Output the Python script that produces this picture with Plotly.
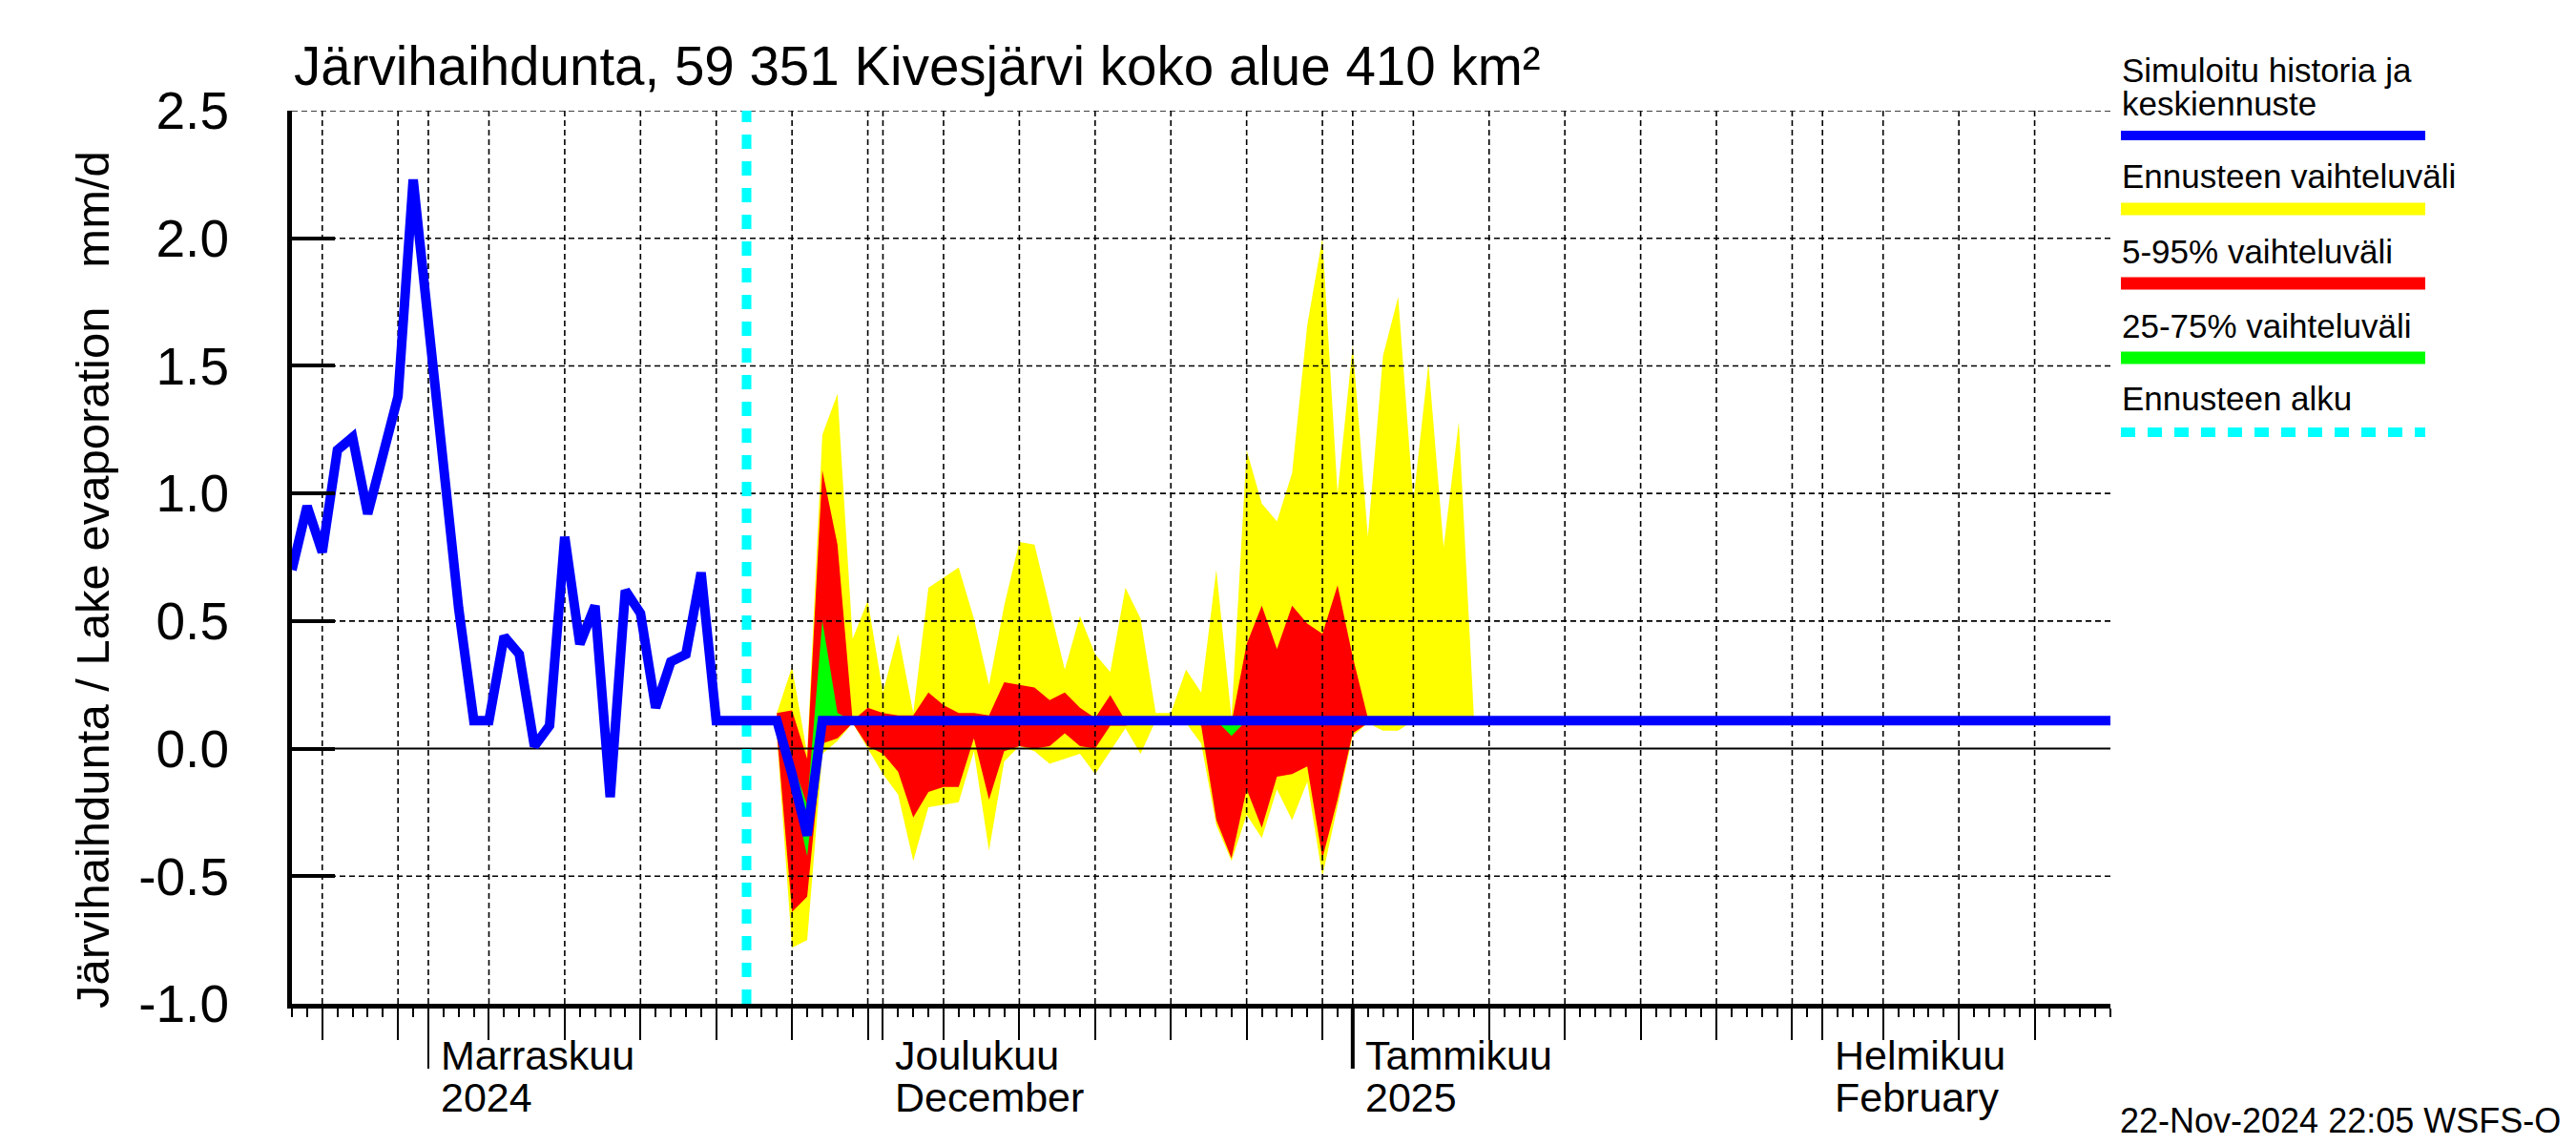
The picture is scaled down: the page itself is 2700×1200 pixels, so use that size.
import plotly.graph_objects as go
import pandas as pd

# ---------------- data ----------------
start_date = "2024-10-23"
end_date = "2025-02-20"
forecast_start = "2024-11-22"

# simulated history, daily from 2024-10-23 (mm/d)
history = [0.70, 0.95, 0.77, 1.17, 1.22, 0.92, 1.15, 1.38, 2.23, 1.66,
           1.05, 0.55, 0.11, 0.11, 0.44, 0.37, 0.01, 0.09, 0.83, 0.41,
           0.56, -0.19, 0.62, 0.53, 0.16, 0.34, 0.37, 0.69, 0.11]

# median forecast, daily from 2024-11-21
median_forecast = [0.11, 0.11, 0.11, 0.11, -0.10, -0.34, 0.11, 0.11, 0.11, 0.11,
                   0.11, 0.11, 0.11, 0.11, 0.11, 0.11, 0.11, 0.11, 0.11, 0.11,
                   0.11, 0.11, 0.11, 0.11, 0.11, 0.11, 0.11, 0.11, 0.11, 0.11,
                   0.11, 0.11, 0.11, 0.11, 0.11, 0.11, 0.11, 0.11, 0.11, 0.11,
                   0.11, 0.11, 0.11, 0.11, 0.11, 0.11, 0.11, 0.11, 0.11, 0.11,
                   0.11, 0.11, 0.11, 0.11, 0.11, 0.11, 0.11, 0.11, 0.11, 0.11,
                   0.11, 0.11, 0.11, 0.11, 0.11, 0.11, 0.11, 0.11, 0.11, 0.11,
                   0.11, 0.11, 0.11, 0.11, 0.11, 0.11, 0.11, 0.11, 0.11, 0.11,
                   0.11, 0.11, 0.11, 0.11, 0.11, 0.11, 0.11, 0.11, 0.11, 0.11,
                   0.11, 0.11]

# forecast ranges, daily from 2024-11-24
band_start = "2024-11-24"
yellow_hi = [0.14, 0.32, -0.02, 1.23, 1.39, 0.43, 0.58, 0.22, 0.45, 0.14,
             0.63, 0.67, 0.71, 0.51, 0.25, 0.56, 0.81, 0.80, 0.56, 0.31,
             0.52, 0.37, 0.30, 0.63, 0.51, 0.14, 0.14, 0.31, 0.22, 0.70,
             0.12, 1.17, 0.96, 0.89, 1.08, 1.66, 2.00, 1.00, 1.58, 0.83,
             1.54, 1.77, 0.97, 1.51, 0.79, 1.28, 0.12]
yellow_lo = [0.05, -0.78, -0.75, -0.02, 0.03, 0.10, 0.00, -0.10, -0.18, -0.44,
             -0.23, -0.22, -0.21, -0.01, -0.40, -0.05, 0.01, -0.01, -0.06, -0.04,
             -0.02, -0.10, -0.01, 0.08, -0.02, 0.11, 0.10, 0.10, 0.02, -0.30,
             -0.44, -0.26, -0.35, -0.16, -0.28, -0.13, -0.50, -0.22, 0.05, 0.10,
             0.07, 0.07, 0.11, 0.11, 0.11, 0.11, 0.11]
red_hi = [0.14, 0.15, -0.04, 1.09, 0.80, 0.11, 0.16, 0.14, 0.13, 0.13,
          0.22, 0.17, 0.14, 0.14, 0.13, 0.26, 0.25, 0.24, 0.19, 0.22,
          0.16, 0.12, 0.21, 0.11, 0.11, 0.11, 0.11, 0.11, 0.11, 0.11,
          0.10, 0.41, 0.56, 0.39, 0.56, 0.49, 0.45, 0.64, 0.36, 0.12,
          0.11, 0.11, 0.11, 0.11, 0.11, 0.11, 0.11]
red_lo = [0.06, -0.64, -0.58, 0.02, 0.04, 0.10, 0.01, -0.02, -0.09, -0.27,
          -0.17, -0.15, -0.15, 0.04, -0.20, -0.01, 0.01, 0.00, 0.01, 0.06,
          0.01, 0.00, 0.09, 0.09, 0.10, 0.11, 0.11, 0.11, 0.09, -0.28,
          -0.43, -0.16, -0.31, -0.11, -0.10, -0.07, -0.43, -0.20, 0.06, 0.10,
          0.11, 0.11, 0.11, 0.11, 0.11, 0.11, 0.11]
green_hi = [0.11, -0.05, -0.22, 0.50, 0.14, 0.11, 0.11, 0.11, 0.11, 0.11,
            0.11, 0.11, 0.11, 0.11, 0.11, 0.11, 0.11, 0.11, 0.11, 0.11,
            0.11, 0.11, 0.11, 0.11, 0.11, 0.11, 0.11, 0.11, 0.11, 0.11,
            0.11, 0.11, 0.11, 0.11, 0.11, 0.11, 0.11, 0.11, 0.11, 0.11,
            0.11, 0.11, 0.11, 0.11, 0.11, 0.11, 0.11]
green_lo = [0.11, -0.15, -0.42, 0.11, 0.10, 0.11, 0.11, 0.11, 0.11, 0.11,
            0.11, 0.11, 0.11, 0.11, 0.11, 0.11, 0.11, 0.11, 0.11, 0.11,
            0.11, 0.11, 0.11, 0.11, 0.11, 0.11, 0.11, 0.11, 0.11, 0.11,
            0.05, 0.11, 0.11, 0.11, 0.11, 0.11, 0.11, 0.11, 0.11, 0.11,
            0.11, 0.11, 0.11, 0.11, 0.11, 0.11, 0.11]

# axis decorations
grid_dates = ["2024-10-25", "2024-10-30", "2024-11-01", "2024-11-05", "2024-11-10",
              "2024-11-15", "2024-11-20", "2024-11-25", "2024-11-30", "2024-12-01",
              "2024-12-05", "2024-12-10", "2024-12-15", "2024-12-20", "2024-12-25",
              "2024-12-30", "2025-01-01", "2025-01-05", "2025-01-10", "2025-01-15",
              "2025-01-20", "2025-01-25", "2025-01-30", "2025-02-01", "2025-02-05",
              "2025-02-10", "2025-02-15"]
y_ticks = [-1.0, -0.5, 0.0, 0.5, 1.0, 1.5, 2.0, 2.5]
y_tick_text = ["-1.0", "-0.5", "0.0", "0.5", "1.0", "1.5", "2.0", "2.5"]
y_grid = [-0.5, 0.5, 1.0, 1.5, 2.0, 2.5]
month_starts = ["2024-11-01", "2024-12-01", "2025-01-01", "2025-02-01"]
month_line1 = ["Marraskuu", "Joulukuu", "Tammikuu", "Helmikuu"]
month_line2 = ["2024", "December", "2025", "February"]
long_tick_months = ["2024-11-01", "2025-01-01"]
long_tick_widths = [2, 4]

title_text = "Järvihaihdunta, 59 351 Kivesjärvi koko alue 410 km²"
ytitle_text = "Järvihaihdunta / Lake evaporation\u00a0\u00a0\u00a0mm/d"
stamp_text = "22-Nov-2024 22:05 WSFS-O"
legend_labels = ["Simuloitu historia ja", "keskiennuste", "Ennusteen vaihteluväli",
                 "5-95% vaihteluväli", "25-75% vaihteluväli", "Ennusteen alku"]

# ---------------- figure ----------------
FONT = "Liberation Sans, Arial, Helvetica, sans-serif"
OFF = 8                       # page body margin of the browser
W, H = 2700 - OFF, 1200 - OFF
L, R, T, B = 306 - OFF, 2700 - 2212, 116 - OFF, 148
PW, PH = W - L - R, H - T - B


def px_x(px):                 # px: position in the 2700x1200 screenshot
    return (px - OFF - L) / PW


def px_y(py):
    return (H - B - (py - OFF)) / PH


t0 = pd.Timestamp(start_date)
hist_dates = pd.date_range(t0, periods=len(history), freq="D")
fc_dates = pd.date_range(hist_dates[-1] + pd.Timedelta(days=1), periods=len(median_forecast), freq="D")
band_dates = pd.date_range(pd.Timestamp(band_start), periods=len(yellow_hi), freq="D")

fig = go.Figure()


def add_band(lo, hi, color):
    fig.add_trace(go.Scatter(x=band_dates, y=lo, mode="lines", line=dict(width=0, color=color),
                             hoverinfo="skip", showlegend=False))
    fig.add_trace(go.Scatter(x=band_dates, y=hi, mode="lines", line=dict(width=0, color=color),
                             fill="tonexty", fillcolor=color, hoverinfo="skip", showlegend=False))


add_band(yellow_lo, yellow_hi, "#FFFF00")
add_band(red_lo, red_hi, "#FF0000")
add_band(green_lo, green_hi, "#00FF00")

# grid drawn above the fills
gx, gy = [], []
for g in grid_dates:
    gx += [g, g, None]
    gy += [y_ticks[0], y_ticks[-1], None]
fig.add_trace(go.Scatter(x=gx, y=gy, mode="lines", line=dict(color="black", width=1.6, dash="6px,4px"),
                         hoverinfo="skip", showlegend=False))
hx, hy = [], []
for v in y_grid:
    hx += [start_date, end_date, None]
    hy += [v, v, None]
fig.add_trace(go.Scatter(x=hx, y=hy, mode="lines", line=dict(color="black", width=1.6, dash="6px,4px"),
                         hoverinfo="skip", showlegend=False))
fig.add_trace(go.Scatter(x=[start_date, end_date], y=[0.0, 0.0], mode="lines",
                         line=dict(color="black", width=2), hoverinfo="skip", showlegend=False))

# forecast start
fig.add_trace(go.Scatter(x=[forecast_start, forecast_start], y=[y_ticks[0], y_ticks[-1]], mode="lines",
                         line=dict(color="#00FFFF", width=10, dash="15px,13px"),
                         hoverinfo="skip", showlegend=False))

# history + median forecast
fig.add_trace(go.Scatter(x=list(hist_dates) + list(fc_dates), y=history + median_forecast, mode="lines",
                         line=dict(color="#0000FF", width=10), hoverinfo="skip", showlegend=False))

annotations = []
shapes = []

annotations.append(dict(text=title_text, xref="paper", yref="paper", x=0.0, y=px_y(70),
                        xanchor="left", yanchor="middle", showarrow=False,
                        font=dict(family=FONT, size=56.5, color="black")))
annotations.append(dict(text=ytitle_text, xref="paper", yref="paper", x=px_x(97), y=px_y(608),
                        xanchor="center", yanchor="middle", textangle=-90, showarrow=False,
                        font=dict(family=FONT, size=49, color="black")))
annotations.append(dict(text=stamp_text, xref="paper", yref="paper", x=px_x(2686), y=px_y(1174),
                        xanchor="right", yanchor="middle", showarrow=False,
                        font=dict(family=FONT, size=36, color="black")))

for d, a, b in zip(month_starts, month_line1, month_line2):
    annotations.append(dict(text=a, xref="x", yref="paper", x=d, y=px_y(1106), xanchor="left",
                            yanchor="middle", xshift=11, showarrow=False,
                            font=dict(family=FONT, size=43, color="black")))
    annotations.append(dict(text=b, xref="x", yref="paper", x=d, y=px_y(1150), xanchor="left",
                            yanchor="middle", xshift=11, showarrow=False,
                            font=dict(family=FONT, size=43, color="black")))

for d, w in zip(long_tick_months, long_tick_widths):
    shapes.append(dict(type="line", xref="x", yref="paper", x0=d, x1=d, y0=0, y1=px_y(1120),
                       line=dict(color="black", width=w)))

# legend (text above a line sample)
leg_text_y = [74, 108, 185, 263, 341, 418]
for lab, yy in zip(legend_labels, leg_text_y):
    annotations.append(dict(text=lab, xref="paper", yref="paper", x=px_x(2222), y=px_y(yy),
                            xanchor="left", yanchor="middle", showarrow=False,
                            font=dict(family=FONT, size=35, color="black")))
leg_lines = [(142, "#0000FF", 10, "solid"), (219, "#FFFF00", 13, "solid"), (297, "#FF0000", 13, "solid"),
             (375, "#00FF00", 13, "solid"), (453, "#00FFFF", 10, "15px,13px")]
for yy, col, w, dash in leg_lines:
    shapes.append(dict(type="line", xref="paper", yref="paper", x0=px_x(2223), x1=px_x(2542),
                       y0=px_y(yy), y1=px_y(yy), line=dict(color=col, width=w, dash=dash)))

fig.update_layout(
    width=W, height=H,
    margin=dict(l=L, r=R, t=T, b=B, pad=0),
    paper_bgcolor="white", plot_bgcolor="white",
    showlegend=False,
    font=dict(family=FONT, color="black"),
    annotations=annotations, shapes=shapes,
    xaxis=dict(type="date", range=[start_date, end_date], showgrid=False, zeroline=False,
               tickmode="array", tickvals=grid_dates, ticks="outside", ticklen=33, tickwidth=2,
               tickcolor="black", showticklabels=False, showline=True, linewidth=5, linecolor="black",
               minor=dict(tickmode="linear", tick0=start_date, dtick=86400000, ticks="outside",
                          ticklen=9, tickwidth=2, tickcolor="black", showgrid=False)),
    yaxis=dict(range=[y_ticks[0], y_ticks[-1]], showgrid=False, zeroline=False,
               tickmode="array", tickvals=y_ticks, ticktext=y_tick_text, ticks="inside",
               ticklen=45, tickwidth=4, tickcolor="black", showline=True, linewidth=5,
               linecolor="black", tickfont=dict(family=FONT, size=55, color="black"),
               ticklabelstandoff=50),
)

fig.write_html("out.html")
